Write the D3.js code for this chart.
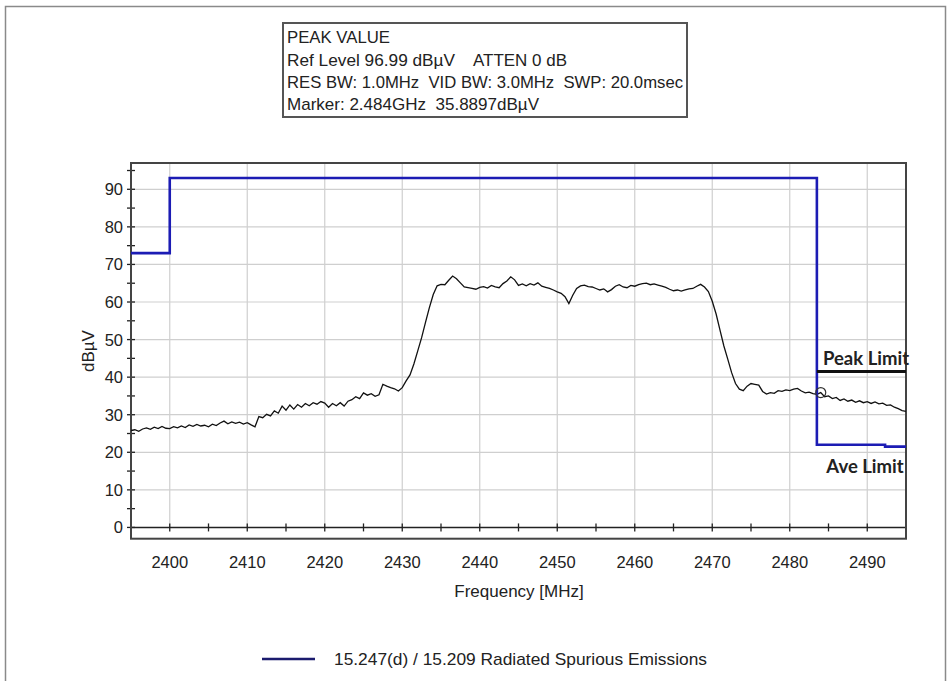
<!DOCTYPE html>
<html>
<head>
<meta charset="utf-8">
<script src="https://cdn.jsdelivr.net/npm/d3@7"></script>
<style>
  html, body { margin: 0; padding: 0; background: #fff; }
  svg { display: block; font-family: "Liberation Sans", Arial, sans-serif; }
  .pre { white-space: pre; }
</style>
</head>
<body>
<svg id="chart" width="952" height="681"></svg>
<script>
// ---------------- data ----------------
const traceStart = 2395;   // MHz
const traceStep = 0.5;     // MHz between samples
const traceValues = [
  25.8,26.0,25.6,26.2,26.5,26.1,26.7,26.3,26.9,26.4,
  26.3,26.8,26.5,27.0,26.6,27.3,26.9,27.4,27.0,27.2,
  26.8,27.5,27.1,27.8,28.3,27.6,28.1,27.7,28.0,27.5,
  27.9,27.3,26.8,29.5,29.2,30.1,29.7,31.0,30.4,32.3,
  31.2,32.6,31.5,32.7,32.0,33.0,32.4,33.2,32.8,33.5,
  33.1,32.0,33.0,32.4,33.2,32.3,33.6,34.0,34.8,34.3,
  35.8,35.2,35.6,34.9,35.3,38.1,37.6,37.2,36.9,36.3,
  37.2,39.0,40.6,43.5,47.0,50.5,54.6,58.5,62.0,64.3,
  64.7,64.6,65.8,66.9,66.2,65.1,64.0,63.8,63.6,63.4,
  63.9,64.1,63.7,64.4,64.0,63.8,64.9,65.6,66.7,65.9,
  64.4,64.8,64.3,64.9,64.5,65.1,64.2,63.9,63.6,63.2,
  62.7,62.3,61.4,59.6,61.8,63.6,64.3,64.5,64.1,64.0,
  63.6,63.2,63.5,62.7,63.3,64.2,64.6,64.0,63.8,64.4,
  64.2,64.6,64.9,65.0,64.6,64.8,64.5,64.2,63.9,63.4,
  63.0,63.2,62.9,63.2,63.5,63.6,64.2,64.7,64.0,62.8,
  60.2,56.8,52.5,48.3,44.8,41.2,38.3,36.8,36.4,37.6,
  38.3,38.1,37.9,36.2,35.5,35.9,35.7,36.4,36.2,36.6,
  36.4,36.8,37.0,36.3,35.8,36.0,35.6,35.4,35.9,34.8,
  35.0,34.3,34.6,33.8,34.2,33.6,33.9,33.3,33.7,33.2,
  33.5,33.0,33.4,32.9,33.1,32.5,32.6,32.0,31.6,31.1,
  30.9
];
// Limit line (15.247(d) / 15.209) as step points [MHz, dBuV]
const limitFreqs  = [2395, 2400, 2400, 2483.5, 2483.5, 2492.3, 2492.3, 2495];
const limitLevels = [73,   73,   93,   93,     22,     22,     21.5,   21.5];
// Peak limit reference segment
const peakLimitFreqs = [2483.5, 2495];
const peakLimitLevel = 41.5;
// Marker
const markerFreq = 2484;
const markerLevel = 35.9;
// Axis ticks
const xTickLabels = [2400, 2410, 2420, 2430, 2440, 2450, 2460, 2470, 2480, 2490];
const yTickLabels = [0, 10, 20, 30, 40, 50, 60, 70, 80, 90];
const xMinorTicks = d3.range(2395, 2495.01, 5);
const yMinorTicks = d3.range(0, 95.01, 5);
const infoLines = [
  "PEAK VALUE",
  "Ref Level 96.99 dBµV",
  "RES BW: 1.0MHz  VID BW: 3.0MHz  SWP: 20.0msec",
  "Marker: 2.484GHz  35.8897dBµV"
];
const infoExtra = "ATTEN 0 dB";
const legendLabel = "15.247(d) / 15.209 Radiated Spurious Emissions";

// ---------------- drawing ----------------
const svg = d3.select("#chart");
const L = 131, R = 906, T = 163, B = 538.7;
const x = d3.scaleLinear().domain([2395, 2495]).range([L, R]);
const y = d3.scaleLinear().domain([-3, 97]).range([B, T]);

// outer frame
svg.append("rect").attr("x", 5.5).attr("y", 6.5).attr("width", 940).attr("height", 690)
  .attr("fill", "none").attr("stroke", "#8a8a8a").attr("stroke-width", 1.5);

// info box
const ib = svg.append("g");
ib.append("rect").attr("x", 283).attr("y", 23).attr("width", 404).attr("height", 94)
  .attr("fill", "#fff").attr("stroke", "#555").attr("stroke-width", 2);
const infoY = [43, 66, 88, 110];
const infoW = [103, 168, 396, 252];
infoLines.forEach((t, i) => {
  ib.append("text").attr("class", "pre").attr("x", 287).attr("y", infoY[i])
    .attr("font-size", 17).attr("fill", "#222")
    .attr("textLength", infoW[i]).attr("lengthAdjust", "spacingAndGlyphs").text(t);
});
ib.append("text").attr("x", 473).attr("y", infoY[1]).attr("font-size", 17).attr("fill", "#222")
  .attr("textLength", 94).attr("lengthAdjust", "spacingAndGlyphs").text(infoExtra);

// grid
const grid = svg.append("g");
grid.selectAll("line.vx").data(xTickLabels).join("line")
  .attr("x1", d => x(d)).attr("x2", d => x(d)).attr("y1", T).attr("y2", y(0))
  .attr("stroke", "#cfcfcf").attr("stroke-width", 1.2);
grid.selectAll("line.hy").data(yTickLabels.filter(d => d > 0)).join("line")
  .attr("x1", L).attr("x2", R).attr("y1", d => y(d)).attr("y2", d => y(d))
  .attr("stroke", "#cfcfcf").attr("stroke-width", 1.2);

// zero line with x ticks
svg.append("line").attr("x1", L).attr("x2", R).attr("y1", y(0)).attr("y2", y(0))
  .attr("stroke", "#222").attr("stroke-width", 1.6);
svg.append("g").selectAll("line").data(xMinorTicks).join("line")
  .attr("x1", d => x(d)).attr("x2", d => x(d)).attr("y1", y(0) - 4).attr("y2", y(0) + 4)
  .attr("stroke", "#222").attr("stroke-width", 1.3);

// y ticks on left axis
svg.append("g").selectAll("line").data(yMinorTicks).join("line")
  .attr("x1", L - 4).attr("x2", L + 4).attr("y1", d => y(d)).attr("y2", d => y(d))
  .attr("stroke", "#222").attr("stroke-width", 1.3);

// plot frame
svg.append("rect").attr("x", L).attr("y", T).attr("width", R - L).attr("height", B - T)
  .attr("fill", "none").attr("stroke", "#444").attr("stroke-width", 2);

// tick labels
svg.append("g").selectAll("text").data(xTickLabels).join("text")
  .attr("x", d => x(d)).attr("y", 568).attr("text-anchor", "middle")
  .attr("font-size", 16.5).attr("fill", "#222").text(d => d);
svg.append("g").selectAll("text").data(yTickLabels).join("text")
  .attr("x", L - 8).attr("y", d => y(d) + 6).attr("text-anchor", "end")
  .attr("font-size", 16.5).attr("fill", "#222").text(d => d);

// axis titles
svg.append("text").attr("x", 519).attr("y", 597).attr("text-anchor", "middle")
  .attr("font-size", 17).attr("fill", "#222").text("Frequency [MHz]");
svg.append("text").attr("transform", "translate(94,351) rotate(-90)").attr("text-anchor", "middle")
  .attr("font-size", 17).attr("fill", "#222").text("dBµV");

// trace
const trace = traceValues.map((v, i) => [traceStart + i * traceStep, v]);
svg.append("path").datum(trace)
  .attr("d", d3.line().x(d => x(d[0])).y(d => y(d[1])))
  .attr("fill", "none").attr("stroke", "#111").attr("stroke-width", 1.3);

// limit line
const limit = limitFreqs.map((f, i) => [f, limitLevels[i]]);
svg.append("path").datum(limit)
  .attr("d", d3.line().x(d => x(d[0])).y(d => y(d[1])))
  .attr("fill", "none").attr("stroke", "#1c1cb4").attr("stroke-width", 2.6);

// peak limit
svg.append("line").attr("x1", x(peakLimitFreqs[0])).attr("x2", x(peakLimitFreqs[1]))
  .attr("y1", y(peakLimitLevel)).attr("y2", y(peakLimitLevel))
  .attr("stroke", "#111").attr("stroke-width", 3);

// marker
svg.append("circle").attr("cx", x(markerFreq)).attr("cy", y(markerLevel)).attr("r", 5)
  .attr("fill", "none").attr("stroke", "#333").attr("stroke-width", 1.2);

// limit labels
svg.append("text").attr("x", 866).attr("y", 365).attr("text-anchor", "middle")
  .attr("font-family", "Lato, sans-serif").attr("font-weight", "bold").attr("font-size", 18.5)
  .attr("fill", "#222").text("Peak Limit");
svg.append("text").attr("x", 865).attr("y", 473).attr("text-anchor", "middle")
  .attr("font-family", "Lato, sans-serif").attr("font-weight", "bold").attr("font-size", 18.5)
  .attr("fill", "#222").text("Ave Limit");

// legend
svg.append("line").attr("x1", 262).attr("x2", 315).attr("y1", 659).attr("y2", 659)
  .attr("stroke", "#1b1b6e").attr("stroke-width", 2.5);
svg.append("text").attr("x", 334).attr("y", 665).attr("font-size", 17)
  .attr("fill", "#222").attr("textLength", 373).attr("lengthAdjust", "spacingAndGlyphs")
  .text(legendLabel);
</script>
</body>
</html>
